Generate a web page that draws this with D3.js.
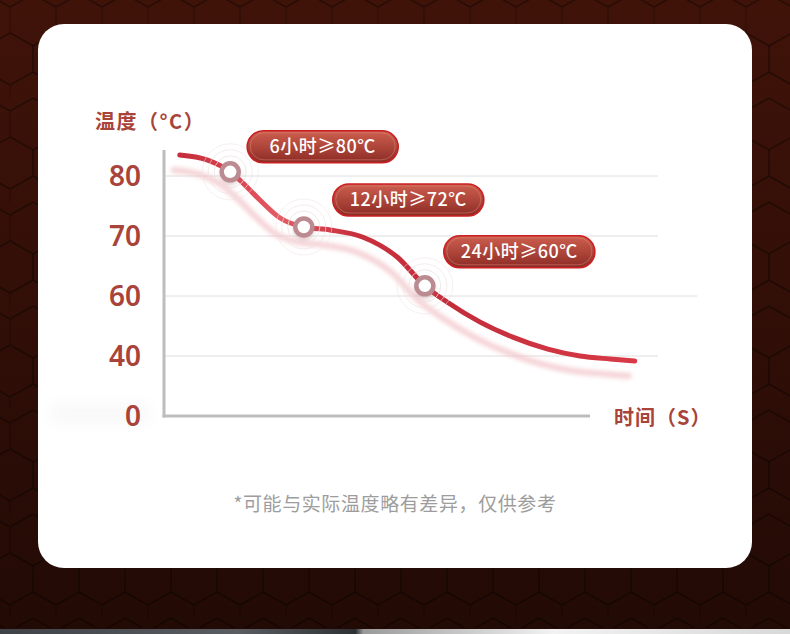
<!DOCTYPE html>
<html>
<head>
<meta charset="utf-8">
<script src="https://cdn.jsdelivr.net/npm/d3@7.9.0/dist/d3.min.js"></script>
<style>
  html, body { margin: 0; padding: 0; background: #2c0d07; }
  svg { display: block; font-family: "Noto Sans CJK SC", "Noto Sans", sans-serif; }
</style>
</head>
<body>
<svg id="chart" width="790" height="634"></svg>
<script>
// y axis tick values (evenly spaced on the axis, not proportional)
const yTicks = [0, 40, 60, 70, 80];

// curve (time in arbitrary units, temperature in 'C)
const curveTime = [3.2, 8.7, 13.4, 16, 19.4, 23.5, 28.3, 33.6, 40.3, 47.2, 52.8, 57.3, 64, 70.6, 77.7, 84.2, 90.3, 95.3];
const curveTemp = [83.5, 82.7, 80.7, 78.8, 76, 73, 71.5, 71, 69.8, 66.5, 61.7, 58, 51.3, 46.3, 42.3, 40, 38, 36.7];

// highlighted points + their callouts
const markerTime = [13.4, 28.3, 52.8];
const markerTemp = [80.7, 71.5, 61.7];
const markerLabels = ["6小时≥80℃", "12小时≥72℃", "24小时≥60℃"];

const W = 790, H = 634;
const svg = d3.select("#chart");
const defs = svg.append("defs");

// --- background: dark red with hex pattern ---
const bgGrad = defs.append("linearGradient").attr("id", "bgGrad")
  .attr("x1", 0).attr("y1", 0).attr("x2", 0).attr("y2", 1);
bgGrad.append("stop").attr("offset", "0%").attr("stop-color", "#401309");
bgGrad.append("stop").attr("offset", "100%").attr("stop-color", "#220a05");

const hexW = 46, hexH = 52;
const hex = defs.append("pattern").attr("id", "hex")
  .attr("patternUnits", "userSpaceOnUse")
  .attr("width", hexW).attr("height", hexH * 1.5 * 2 / 1.5)
  .attr("x", 10).attr("y", -6);
const hw = hexW / 2, q = hexH / 4;
const hexPath = (cx, cy) => `M${cx},${cy - 2 * q} L${cx + hw},${cy - q} L${cx + hw},${cy + q} L${cx},${cy + 2 * q} L${cx - hw},${cy + q} L${cx - hw},${cy - q} Z`;
[[hw, 2 * q], [0, 5 * q], [hexW, 5 * q], [hw, 8 * q], [0, -q], [hexW, -q]].forEach(([cx, cy]) => {
  hex.append("path").attr("d", hexPath(cx, cy))
    .attr("fill", "none").attr("stroke", "#000").attr("stroke-opacity", 0.22).attr("stroke-width", 1.5);
});

svg.append("rect").attr("width", W).attr("height", H).attr("fill", "url(#bgGrad)");
svg.append("rect").attr("width", W).attr("height", 628).attr("fill", "url(#hex)");

// bottom strip
const stripGrad = defs.append("linearGradient").attr("id", "stripGrad");
stripGrad.append("stop").attr("offset", "0%").attr("stop-color", "#3f4347");
stripGrad.append("stop").attr("offset", "30%").attr("stop-color", "#5a5e62");
stripGrad.append("stop").attr("offset", "45%").attr("stop-color", "#2e3134");
stripGrad.append("stop").attr("offset", "46%").attr("stop-color", "#9a9a9a");
stripGrad.append("stop").attr("offset", "70%").attr("stop-color", "#f2f2f2");
stripGrad.append("stop").attr("offset", "100%").attr("stop-color", "#d8d8d8");
svg.append("rect").attr("y", 629).attr("width", W).attr("height", 5).attr("fill", "url(#stripGrad)");

// --- white card ---
svg.append("rect")
  .attr("x", 38).attr("y", 24).attr("width", 714).attr("height", 544)
  .attr("rx", 26).attr("fill", "#fff");

// soft grey smudge left of the origin
const blur6 = defs.append("filter").attr("id", "blur6").attr("x", "-50%").attr("y", "-50%").attr("width", "200%").attr("height", "200%");
blur6.append("feGaussianBlur").attr("stdDeviation", 7);
svg.append("rect").attr("x", 50).attr("y", 404).attr("width", 100).attr("height", 20)
  .attr("fill", "#f1f1f1").attr("opacity", 0.45).attr("filter", "url(#blur6)");

// --- scales ---
const plotLeft = 164, plotBottom = 416, step = 60;
const x = d3.scaleLinear().domain([0, 100]).range([plotLeft, 658]);
const y = d3.scaleLinear().domain(yTicks).range(yTicks.map((d, i) => plotBottom - i * step));

const textColor = "#a8443a";

// grid lines
svg.append("g").selectAll("line")
  .data(yTicks.filter(d => d > 0))
  .join("line")
  .attr("x1", plotLeft).attr("x2", d => d === 60 ? 697 : 658)
  .attr("y1", d => y(d)).attr("y2", d => y(d))
  .attr("stroke", "#dedede").attr("stroke-width", 1);

// y axis labels
const yAxis = svg.append("g")
  .attr("transform", `translate(${plotLeft},0)`)
  .call(d3.axisLeft(y).tickValues(yTicks).tickSize(0).tickPadding(23));
yAxis.select(".domain").remove();
yAxis.selectAll("text")
  .attr("fill", textColor)
  .style("font-family", "'Noto Sans', sans-serif")
  .style("font-size", "28px")
  .style("font-weight", 600)
  .attr("dy", "0.35em");

// axis lines
svg.append("line").attr("x1", plotLeft).attr("x2", plotLeft).attr("y1", 150).attr("y2", plotBottom + 1.5)
  .attr("stroke", "#bdbdbd").attr("stroke-width", 3);
svg.append("line").attr("x1", plotLeft - 1.5).attr("x2", 590).attr("y1", plotBottom).attr("y2", plotBottom)
  .attr("stroke", "#bdbdbd").attr("stroke-width", 3);

// axis titles
svg.append("text").attr("x", 95).attr("y", 129)
  .attr("fill", textColor).style("font-size", "20px").style("font-weight", 700)
  .style("letter-spacing", "1.5px")
  .text("温度（°C）");
svg.append("text").attr("x", 614).attr("y", 425)
  .attr("fill", textColor).style("font-size", "20px").style("font-weight", 700)
  .style("letter-spacing", "1px")
  .text("时间（S）");

// --- curve ---
const pts = curveTime.map((t, i) => [t, curveTemp[i]]);
const line = d3.line().x(d => x(d[0])).y(d => y(d[1])).curve(d3.curveMonotoneX);

const blur3 = defs.append("filter").attr("id", "blur3").attr("x", "-20%").attr("y", "-20%").attr("width", "140%").attr("height", "140%");
blur3.append("feGaussianBlur").attr("stdDeviation", 2);

// faint reflection of the line
svg.append("path").attr("d", line(pts))
  .attr("transform", "translate(-6,15)")
  .attr("fill", "none").attr("stroke", "#f2c3c7").attr("stroke-width", 6)
  .attr("stroke-linecap", "round").attr("opacity", 0.75).attr("filter", "url(#blur3)");

const lineGrad = defs.append("linearGradient").attr("id", "lineGrad")
  .attr("gradientUnits", "userSpaceOnUse")
  .attr("x1", x(curveTime[0])).attr("x2", x(curveTime[curveTime.length - 1])).attr("y1", 0).attr("y2", 0);
[["0%", "#c42e3b"], ["12%", "#d9434f"], ["22%", "#e45c66"], ["38%", "#c9303d"], ["60%", "#c42d3a"], ["100%", "#d83a47"]]
  .forEach(([o, c]) => lineGrad.append("stop").attr("offset", o).attr("stop-color", c));

svg.append("path").attr("d", line(pts))
  .attr("fill", "none").attr("stroke", "url(#lineGrad)").attr("stroke-width", 5)
  .attr("stroke-linecap", "round");

// --- markers ---
const markers = markerTime.map((t, i) => ({ t, v: markerTemp[i], label: markerLabels[i] }));
const mg = svg.append("g").selectAll("g").data(markers).join("g")
  .attr("transform", d => `translate(${x(d.t)},${y(d.v)})`);

[28, 22, 16].forEach((r, k) => {
  mg.append("circle").attr("r", r).attr("fill", "none")
    .attr("stroke", "#eee2e3").attr("stroke-width", 1).attr("opacity", 0.5 + k * 0.15);
});
mg.append("circle").attr("r", 10).attr("cy", 3).attr("fill", "#b98a8f").attr("opacity", 0.45).attr("filter", "url(#blur3)");
mg.append("circle").attr("r", 8.5).attr("fill", "#fff").attr("stroke", "#bb8b91").attr("stroke-width", 4.5);

// --- callout pills ---
const pillOffset = [[17, -41], [29, -43], [19, -50]];
const pillW = 151, pillH = 32;

const pillGrad = defs.append("linearGradient").attr("id", "pillGrad")
  .attr("x1", 0).attr("y1", 0).attr("x2", 0).attr("y2", 1);
pillGrad.append("stop").attr("offset", "0%").attr("stop-color", "#cc5f4f");
pillGrad.append("stop").attr("offset", "55%").attr("stop-color", "#ab4338");
pillGrad.append("stop").attr("offset", "100%").attr("stop-color", "#8a2b25");

const pg = svg.append("g").selectAll("g").data(markers).join("g")
  .attr("transform", (d, i) => `translate(${x(d.t) + pillOffset[i][0]},${y(d.v) + pillOffset[i][1]})`);
pg.append("rect").attr("width", pillW).attr("height", pillH).attr("rx", pillH / 2)
  .attr("fill", "url(#pillGrad)").attr("stroke", "#cc1f22").attr("stroke-width", 1.6);
pg.append("rect").attr("x", 3).attr("y", 2).attr("width", pillW - 6).attr("height", pillH - 5).attr("rx", (pillH - 5) / 2)
  .attr("fill", "none").attr("stroke", "#e8917f").attr("stroke-opacity", 0.45).attr("stroke-width", 1);
pg.append("text").attr("x", pillW / 2).attr("y", pillH / 2).attr("dy", "0.36em")
  .attr("text-anchor", "middle").attr("fill", "#fff")
  .style("font-size", "18px").style("font-weight", 500)
  .style("letter-spacing", "0.5px")
  .text(d => d.label);

// footnote
svg.append("text").attr("x", 395).attr("y", 504).attr("dy", "0.36em")
  .attr("text-anchor", "middle").attr("fill", "#9d9d9d")
  .style("font-size", "19px").style("letter-spacing", "0.6px")
  .text("*可能与实际温度略有差异，仅供参考");
</script>
</body>
</html>
